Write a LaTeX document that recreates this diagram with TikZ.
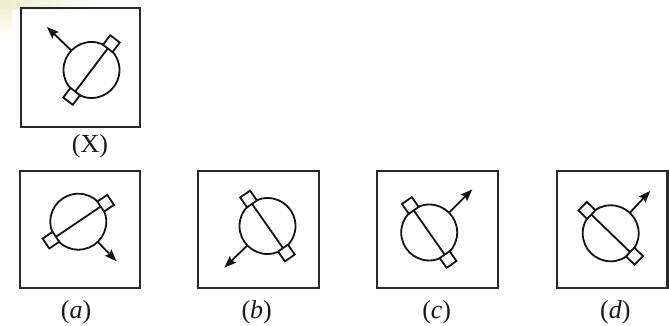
\documentclass[tikz,border=0pt]{standalone}
\usepackage{fontspec}
\setmainfont{Liberation Serif}
\usetikzlibrary{arrows.meta}
\tikzset{
  framebox/.style={draw={rgb,255:red,40;green,40;blue,40}, line width=2.2pt},
  stroke/.style={draw={rgb,255:red,20;green,20;blue,20}, line width=1.8pt},
  knob/.style={stroke, fill=white},
  pointer/.style={stroke, -{Stealth[length=12pt,width=9pt,inset=2pt]}},
  caption/.style={font=\fontsize{26}{30}\selectfont, text={rgb,255:red,25;green,25;blue,25}, inner sep=0pt}
}
% #1,#2 centre; #3 line angle; #4 arrow angle; #5 arrow tip distance
\newcommand{\drawglyph}[5]{%
  \begin{scope}[shift={(#1,#2)}]
    \draw[stroke] (0,0) circle (28);
    \draw[stroke] (#3:33) -- (#3+180:33);
    \draw[knob, shift={(#3:33)}, rotate=#3] (-6,-6) rectangle (6,6);
    \draw[knob, shift={(#3+180:33)}, rotate=#3] (-6,-6) rectangle (6,6);
    \draw[pointer] (#4:28) -- (#4:#5);
  \end{scope}}
\begin{document}
\begin{tikzpicture}[x=1pt,y=1pt]
\useasboundingbox (0,0) rectangle (669,326);
\shade[left color={rgb,255:red,238;green,236;blue,205}, right color=white] (0,326) rectangle (110,316);
\shade[top color={rgb,255:red,242;green,240;blue,215}, bottom color=white] (0,316) rectangle (12,286);
% frames
\draw[framebox] (21,318) rectangle (140,199);
\draw[framebox] (20,155) rectangle (140,38);
\draw[framebox] (198.3,155) rectangle (319.3,38);
\draw[framebox] (377.3,155) rectangle (498.3,38);
\draw[framebox] (556.7,155) rectangle (667.5,38);
% glyphs
\drawglyph{91.5}{256}{53}{136}{62}
\drawglyph{78.3}{104.3}{34}{-46}{55}
\drawglyph{267.5}{100}{125}{224}{60}
\drawglyph{429.2}{93.5}{125}{45}{61}
\drawglyph{610.7}{92.7}{136}{47}{58}
% captions
\node[caption] (lx) at (90,180) {(X)};
\node[caption] (la) at (76,14) {(\textit{a})};
\node[caption] (lb) at (256.7,14) {(\textit{b})};
\node[caption] (lc) at (436.7,14) {(\textit{c})};
\node[caption] (ld) at (615.3,14) {(\textit{d})};
\end{tikzpicture}
\end{document}
